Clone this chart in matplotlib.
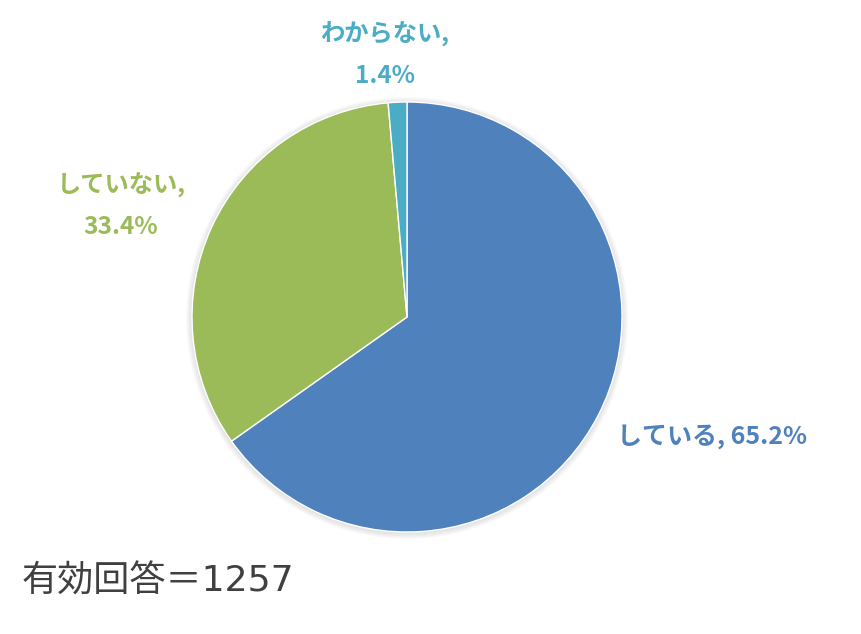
import matplotlib.pyplot as plt
from matplotlib.patches import Circle

plt.rcParams['font.family'] = ['Noto Sans CJK JP', 'DejaVu Sans']

# data
labels = ['している', 'していない', 'わからない']
values = [65.2, 33.4, 1.4]
colors = ['#4F81BD', '#9BBB59', '#4BACC6']
n_total = 1257

W, H = 861, 634
fig = plt.figure(figsize=(W / 100, H / 100), dpi=100)
ax = fig.add_axes([0, 0, 1, 1])

cx, cy, r = 407, H - 317, 215

# soft glow behind the pie
for i in range(6):
    ax.add_patch(Circle((cx, cy - 1), r + 1 + i, color='#808080',
                        alpha=0.035, lw=0, zorder=0))

ax.pie(values, colors=colors, startangle=90, counterclock=False,
       center=(cx, cy), radius=r, frame=True,
       wedgeprops=dict(edgecolor='white', linewidth=1, zorder=2))
ax.set_xlim(0, W)
ax.set_ylim(0, H)
ax.set_aspect('equal')
ax.axis('off')

# labels
ax.text(617, H - 437, f'{labels[0]}, {values[0]}%', color=colors[0],
        fontsize=18, fontweight='bold', ha='left', va='center')
ax.text(121, H - 206, f'{labels[1]},\n{values[1]}%', color=colors[1],
        fontsize=17.5, fontweight='bold', ha='center', va='center',
        linespacing=1.9)
ax.text(385, H - 55, f'{labels[2]},\n{values[2]}%', color=colors[2],
        fontsize=17.5, fontweight='bold', ha='center', va='center',
        linespacing=1.9)

ax.text(22, H - 582, f'有効回答＝{n_total}', color='#404040',
        fontsize=26, ha='left', va='center',
        family=['DejaVu Sans', 'Noto Sans CJK JP'])

fig.savefig('out.png', dpi=100, facecolor='white')
